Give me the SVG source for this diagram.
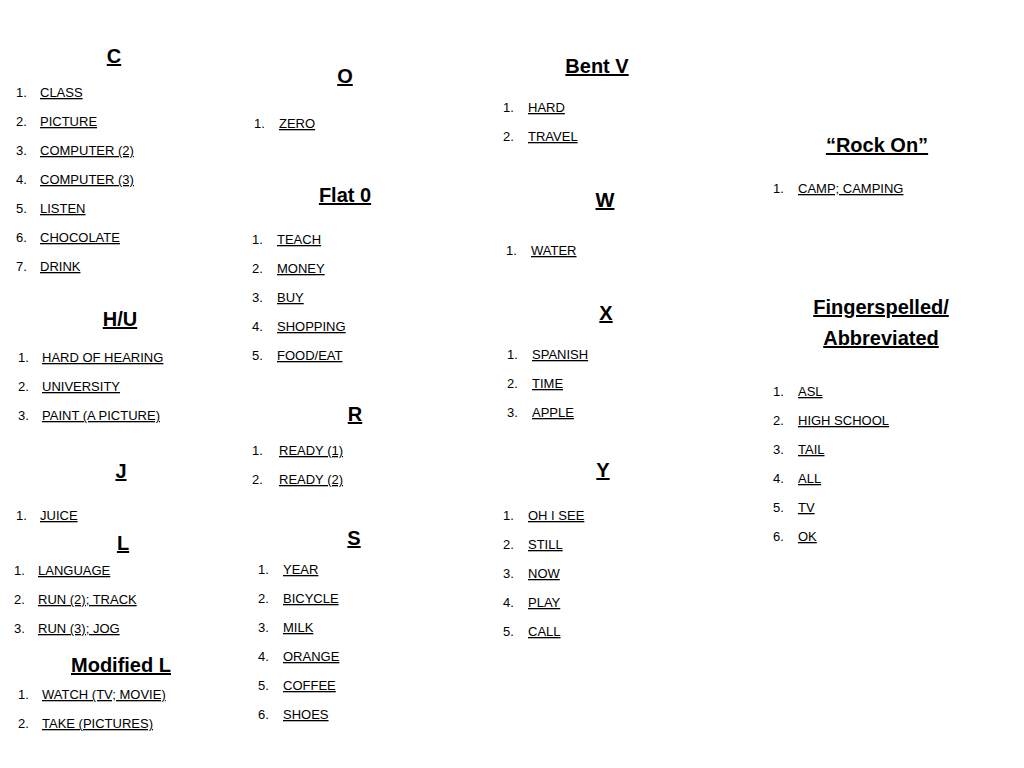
<svg xmlns="http://www.w3.org/2000/svg" width="1024" height="768" viewBox="0 0 1024 768">
<style>
.h{font-family:"Liberation Sans",Arial,sans-serif;font-weight:bold;font-size:20px;text-anchor:middle;text-decoration:underline;fill:#000}
.n{font-family:"Liberation Sans",Arial,sans-serif;font-size:13px;fill:#000}
.t{font-family:"Liberation Sans",Arial,sans-serif;font-size:13px;fill:#000;text-decoration:underline}
</style>
<rect width="1024" height="768" fill="#fff"/>
<g id="col1">
<text class="h" x="114" y="63">C</text>
<text class="n" x="16" y="97">1.</text><text class="t" x="40" y="97">CLASS</text>
<text class="n" x="16" y="126">2.</text><text class="t" x="40" y="126">PICTURE</text>
<text class="n" x="16" y="155">3.</text><text class="t" x="40" y="155">COMPUTER (2)</text>
<text class="n" x="16" y="184">4.</text><text class="t" x="40" y="184">COMPUTER (3)</text>
<text class="n" x="16" y="213">5.</text><text class="t" x="40" y="213">LISTEN</text>
<text class="n" x="16" y="242">6.</text><text class="t" x="40" y="242">CHOCOLATE</text>
<text class="n" x="16" y="271">7.</text><text class="t" x="40" y="271">DRINK</text>
<text class="h" x="120" y="326">H/U</text>
<text class="n" x="18" y="362">1.</text><text class="t" x="42" y="362">HARD OF HEARING</text>
<text class="n" x="18" y="391">2.</text><text class="t" x="42" y="391">UNIVERSITY</text>
<text class="n" x="18" y="420">3.</text><text class="t" x="42" y="420">PAINT (A PICTURE)</text>
<text class="h" x="121" y="478">J</text>
<text class="n" x="16" y="520">1.</text><text class="t" x="40" y="520">JUICE</text>
<text class="h" x="123" y="550">L</text>
<text class="n" x="14" y="575">1.</text><text class="t" x="38" y="575">LANGUAGE</text>
<text class="n" x="14" y="604">2.</text><text class="t" x="38" y="604">RUN (2); TRACK</text>
<text class="n" x="14" y="633">3.</text><text class="t" x="38" y="633">RUN (3); JOG</text>
<text class="h" x="121" y="672">Modified L</text>
<text class="n" x="18" y="699">1.</text><text class="t" x="42" y="699">WATCH (TV; MOVIE)</text>
<text class="n" x="18" y="728">2.</text><text class="t" x="42" y="728">TAKE (PICTURES)</text>
</g>
<g id="col2">
<text class="h" x="345" y="83">O</text>
<text class="n" x="254" y="128">1.</text><text class="t" x="279" y="128">ZERO</text>
<text class="h" x="345" y="202">Flat 0</text>
<text class="n" x="252" y="244">1.</text><text class="t" x="277" y="244">TEACH</text>
<text class="n" x="252" y="273">2.</text><text class="t" x="277" y="273">MONEY</text>
<text class="n" x="252" y="302">3.</text><text class="t" x="277" y="302">BUY</text>
<text class="n" x="252" y="331">4.</text><text class="t" x="277" y="331">SHOPPING</text>
<text class="n" x="252" y="360">5.</text><text class="t" x="277" y="360">FOOD/EAT</text>
<text class="h" x="355" y="421">R</text>
<text class="n" x="252" y="455">1.</text><text class="t" x="279" y="455">READY (1)</text>
<text class="n" x="252" y="484">2.</text><text class="t" x="279" y="484">READY (2)</text>
<text class="h" x="354" y="545">S</text>
<text class="n" x="258" y="574">1.</text><text class="t" x="283" y="574">YEAR</text>
<text class="n" x="258" y="603">2.</text><text class="t" x="283" y="603">BICYCLE</text>
<text class="n" x="258" y="632">3.</text><text class="t" x="283" y="632">MILK</text>
<text class="n" x="258" y="661">4.</text><text class="t" x="283" y="661">ORANGE</text>
<text class="n" x="258" y="690">5.</text><text class="t" x="283" y="690">COFFEE</text>
<text class="n" x="258" y="719">6.</text><text class="t" x="283" y="719">SHOES</text>
</g>
<g id="col3">
<text class="h" x="597" y="73">Bent V</text>
<text class="n" x="503" y="112">1.</text><text class="t" x="528" y="112">HARD</text>
<text class="n" x="503" y="141">2.</text><text class="t" x="528" y="141">TRAVEL</text>
<text class="h" x="605" y="207">W</text>
<text class="n" x="506" y="255">1.</text><text class="t" x="531" y="255">WATER</text>
<text class="h" x="606" y="320">X</text>
<text class="n" x="507" y="359">1.</text><text class="t" x="532" y="359">SPANISH</text>
<text class="n" x="507" y="388">2.</text><text class="t" x="532" y="388">TIME</text>
<text class="n" x="507" y="417">3.</text><text class="t" x="532" y="417">APPLE</text>
<text class="h" x="603" y="477">Y</text>
<text class="n" x="503" y="520">1.</text><text class="t" x="528" y="520">OH I SEE</text>
<text class="n" x="503" y="549">2.</text><text class="t" x="528" y="549">STILL</text>
<text class="n" x="503" y="578">3.</text><text class="t" x="528" y="578">NOW</text>
<text class="n" x="503" y="607">4.</text><text class="t" x="528" y="607">PLAY</text>
<text class="n" x="503" y="636">5.</text><text class="t" x="528" y="636">CALL</text>
</g>
<g id="col4">
<text class="h" x="877" y="152">“Rock On”</text>
<text class="n" x="773" y="193">1.</text><text class="t" x="798" y="193">CAMP; CAMPING</text>
<text class="h" x="881" y="314">Fingerspelled/</text>
<text class="h" x="881" y="345">Abbreviated</text>
<text class="n" x="773" y="396">1.</text><text class="t" x="798" y="396">ASL</text>
<text class="n" x="773" y="425">2.</text><text class="t" x="798" y="425">HIGH SCHOOL</text>
<text class="n" x="773" y="454">3.</text><text class="t" x="798" y="454">TAIL</text>
<text class="n" x="773" y="483">4.</text><text class="t" x="798" y="483">ALL</text>
<text class="n" x="773" y="512">5.</text><text class="t" x="798" y="512">TV</text>
<text class="n" x="773" y="541">6.</text><text class="t" x="798" y="541">OK</text>
</g>
</svg>
